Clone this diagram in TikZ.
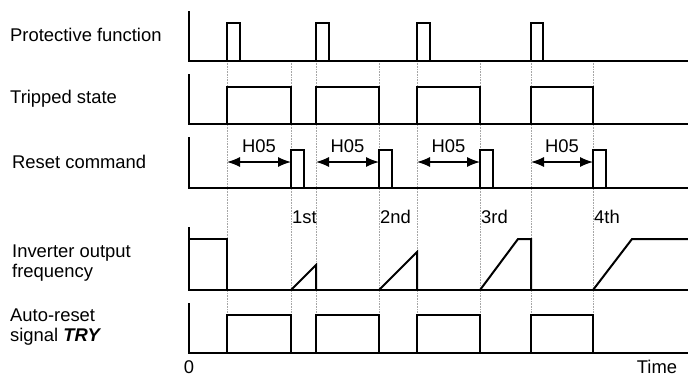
\documentclass[tikz,border=0pt]{standalone}
\usepackage{fontspec}
\setmainfont{Liberation Sans}
\usetikzlibrary{arrows.meta}

\begin{document}
\begin{tikzpicture}[
        x=1pt, y=-1pt,
        lbl/.style={anchor=west, align=left, inner sep=0pt, font=\fontsize{18.4}{20}\selectfont},
        txt/.style={inner sep=0pt, font=\fontsize{18.4}{20}\selectfont},
        axis/.style={line width=1.5pt, line join=miter},
        sig/.style={line width=2pt, line join=miter},
        guide/.style={densely dotted, gray!70, line width=0.6pt},
        dim/.style={{Latex[length=13pt,width=10pt]}-{Latex[length=13pt,width=10pt]}, line width=1.3pt}
    ]
        \useasboundingbox (0,0) rectangle (688,376);

        % dotted time marks
        \foreach \t in {227,291,316,379,417,480,531,593}
            \draw[guide] (\t,61) -- (\t,353);

        % axes of the five rows
        \foreach \top/\base in {11/61, 74/124, 137/188, 227/290, 303/353}
            \draw[axis] (189,\top) -- (189,\base) -- (688,\base);

        % row labels
        \node[lbl] (prot) at (10,35) {Protective function};
        \node[lbl] (trip) at (10,99) {Tripped state};
        \node[lbl] (reset) at (12,162) {Reset command};
        \node[lbl] (freq) at (12,263) {Inverter output\\frequency};
        \node[lbl] (try) at (10,327) {Auto-reset\\signal \textbf{\textit{TRY}}};

        % protective function pulses
        \foreach \a/\b in {227/240, 316/329, 417/430, 531/543}
            \draw[sig] (\a,61) -- (\a,23) -- (\b,23) -- (\b,61);

        % tripped state
        \foreach \a/\b in {227/291, 316/379, 417/480, 531/593}
            \draw[sig] (\a,124) -- (\a,87) -- (\b,87) -- (\b,124);

        % reset command pulses, H05 spans and retry numbers
        \foreach \a/\b/\n [count=\i] in {227/291/1st, 316/379/2nd, 417/480/3rd, 531/593/4th} {
            \draw[sig] (\b,188) -- (\b,150) -- (\b+13,150) -- (\b+13,188);
            \coordinate (hs\i) at (\a,162);
            \coordinate (he\i) at (\b,162);
            \draw[dim] (hs\i) -- (he\i);
            \node[txt] (hlbl\i) at ({(\a+\b)/2},146) {H05};
            \node[txt, anchor=west] (try\i) at (\b+1,217) {\n};
        }

        % inverter output frequency
        \draw[sig] (189,239) -- (227,239) -- (227,290);
        \draw[sig] (291,290) -- (316,265) -- (316,290);
        \draw[sig] (379,290) -- (417,252) -- (417,290);
        \draw[sig] (480,290) -- (518,239) -- (531,239) -- (531,290);
        \draw[sig] (593,290) -- (632,239) -- (688,239);

        % auto-reset signal
        \draw[sig] (189,353) -- (227,353) -- (227,315) -- (291,315) -- (291,353)
            -- (316,353) -- (316,315) -- (379,315) -- (379,353)
            -- (417,353) -- (417,315) -- (480,315) -- (480,353)
            -- (531,353) -- (531,315) -- (593,315) -- (593,353) -- (688,353);

        \node[txt, anchor=base] (zero) at (189,373) {0};
        \node[txt, anchor=base] (time) at (657,373) {Time};
    \end{tikzpicture}
\end{document}
